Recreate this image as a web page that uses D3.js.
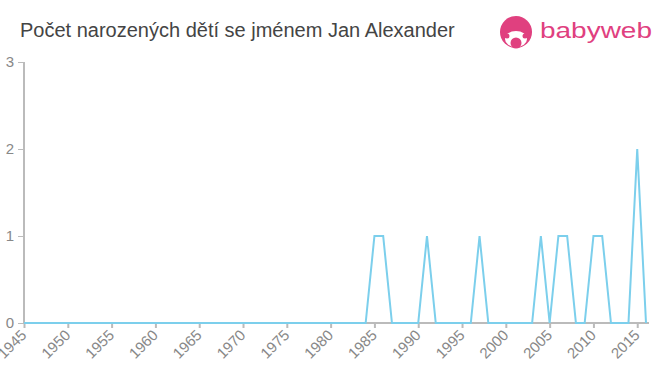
<!DOCTYPE html>
<html>
<head>
<meta charset="utf-8">
<title>Jan Alexander</title>
<style>
body { margin: 0; background: #fff; }
text { font-family: "Liberation Sans", Arial, sans-serif; }
</style>
</head>
<body>
<svg width="660" height="375"></svg>
<script src="https://cdnjs.cloudflare.com/ajax/libs/d3/7.8.5/d3.min.js"></script>
<script>

var years = d3.range(1945, 2017);
var nonZero = {1985: 1, 1986: 1, 1991: 1, 1997: 1, 2004: 1, 2006: 1, 2007: 1, 2010: 1, 2011: 1, 2015: 2};
var counts = years.map(function(y) { return nonZero[y] || 0; });
var xTicks = d3.range(1945, 2016, 5);
var yTicks = [0, 1, 2, 3];

var svg = d3.select("svg");

var x = d3.scaleLinear().domain([1945, 2016]).range([24, 646]);
var y = d3.scaleLinear().domain([0, 3]).range([323, 62]);

// title
svg.append("text")
    .attr("x", 20)
    .attr("y", 37)
    .attr("fill", "#444")
    .style("font-size", "20px")
    .text("Počet narozených dětí se jménem Jan Alexander");

// logo
var logo = svg.append("g").attr("fill", "#e0407f");
logo.append("circle").attr("cx", 516).attr("cy", 32).attr("r", 16);
logo.append("ellipse").attr("cx", 516).attr("cy", 39).attr("rx", 11).attr("ry", 8).attr("fill", "#fff");
logo.append("circle").attr("cx", 507).attr("cy", 36).attr("r", 2.5);
logo.append("circle").attr("cx", 525).attr("cy", 36).attr("r", 2.5);
logo.append("circle").attr("cx", 516).attr("cy", 43).attr("r", 5.5);
logo.append("text")
    .attr("x", 540)
    .attr("y", 38)
    .attr("textLength", 112)
    .attr("lengthAdjust", "spacingAndGlyphs")
    .style("font-size", "22px")
    .text("babyweb");

// y axis
var yAxis = svg.append("g")
    .attr("transform", "translate(24,0)")
    .call(d3.axisLeft(y).tickValues(yTicks).tickFormat(d3.format("d")).tickSize(6).tickPadding(4));
yAxis.select(".domain").attr("d", "M0," + y(3) + "V" + y(0)).attr("stroke", "#bbb").attr("stroke-width", 2);
yAxis.selectAll("line").attr("stroke", "#bbb");
yAxis.selectAll("text").attr("fill", "#888").style("font-size", "15px")
    .style("font-family", "'Liberation Sans', Arial, sans-serif");

// x axis
var xAxis = svg.append("g")
    .attr("transform", "translate(0,323)")
    .call(d3.axisBottom(x).tickValues(xTicks).tickFormat(d3.format("d")).tickSize(5));
xAxis.select(".domain").attr("d", "M24,0H649").attr("stroke", "#bbb").attr("stroke-width", 2);
xAxis.selectAll("line").attr("stroke", "#bbb").attr("stroke-width", 2);
xAxis.selectAll("text")
    .attr("fill", "#888")
    .style("font-size", "15px")
    .style("font-family", "'Liberation Sans', Arial, sans-serif")
    .attr("text-anchor", "end")
    .attr("y", 0)
    .attr("dy", "0")
    .attr("transform", "translate(3,13) rotate(-45)");

// line
var line = d3.line()
    .x(function(d, i) { return x(years[i]); })
    .y(function(d) { return y(d); });

svg.append("path")
    .datum(counts)
    .attr("fill", "none")
    .attr("stroke", "#7ccfec")
    .attr("stroke-width", 2)
    .attr("d", line);

</script>
</body>
</html>
